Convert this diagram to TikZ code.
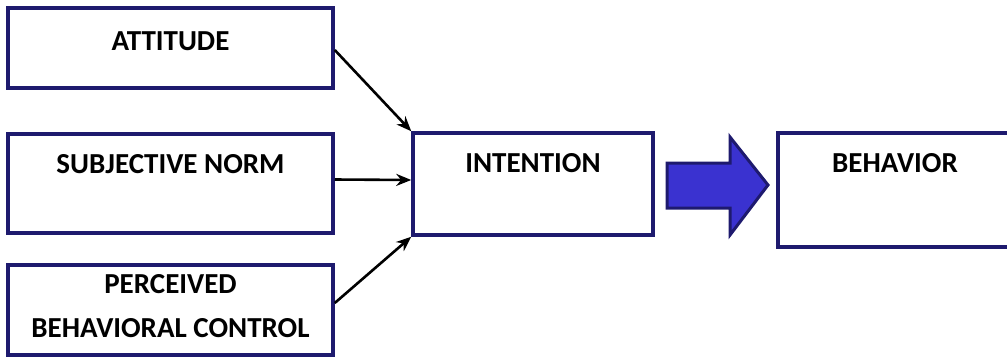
\documentclass[tikz,border=0pt]{standalone}
\usepackage{fontspec}
\setmainfont{Carlito}
\usetikzlibrary{arrows.meta}
\definecolor{boxnavy}{HTML}{1E1A6E}
\definecolor{arrowblue}{HTML}{3A32D0}
\begin{document}
\begin{tikzpicture}
  [x=1pt,y=-1pt,
   every node/.style={font=\fontsize{29}{35}\selectfont\bfseries},
   factor/.style={draw=boxnavy,line width=3.5pt,inner sep=0pt,minimum width=325pt},
   outcome/.style={draw=boxnavy,line width=3.5pt,inner sep=0pt},
   link/.style={line width=2.6pt,-{Stealth[length=15pt,width=12pt]}}]
\useasboundingbox (0,0) rectangle (1007,360);
\node (att)[factor,text height=42pt,text depth=38pt] at (170.5,48) {ATTITUDE};
  \node (sn)[factor,text height=39pt,text depth=60pt] at (170.5,183.5) {SUBJECTIVE NORM};
  \node (pbc)[factor,align=center,text height=72pt,text depth=18pt] at (170.5,310) {PERCEIVED\\[9pt]BEHAVIORAL CONTROL};
  \node (int)[outcome,minimum width=240pt,text height=39pt,text depth=63pt] at (533,184) {INTENTION};
  \node (beh)[outcome,minimum width=234pt,text height=39pt,text depth=75pt] at (895,190) {BEHAVIOR};

 \path[link, black]
   ([yshift=-2pt]att.east) edge (int.north west)
   ([yshift=4pt]sn.east) edge ([yshift=4pt]int.west)
   ([yshift=7pt]pbc.east) edge (int.south west);
 % big arrow from intention to behavior
 \draw[boxnavy,line width=3pt,line join=miter,fill=arrowblue]
   (667,163) -- (730,163) -- (730,137) -- (768,185) -- (730,235)
   -- (730,208) -- (667,208) -- cycle;

\end{tikzpicture}
\end{document}
